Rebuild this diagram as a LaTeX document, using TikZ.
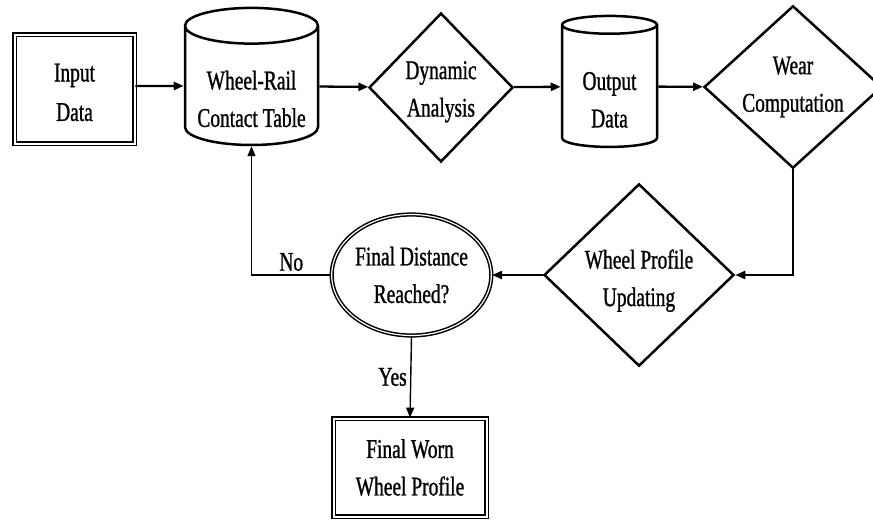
\documentclass[tikz,border=0pt]{standalone}
\usepackage{fontspec}
\setmainfont{Liberation Serif}[FakeStretch=0.72, FakeBold=1]
\usetikzlibrary{shapes.geometric, arrows.meta, positioning}
\tikzstyle{block}=[rectangle, draw=black, double, line width=1.8pt,
    double distance=2pt, align=center, inner sep=0pt]
\tikzstyle{drum}=[cylinder, shape border rotate=90, draw=black,
    line width=2.5pt, aspect=0.33, align=center, inner sep=0pt,
    text height=82pt]
\tikzstyle{decide}=[diamond, draw=black, line width=2.5pt,
    align=center, inner sep=0pt]
\tikzstyle{check}=[ellipse, draw=black, double, line width=1.5pt,
    double distance=1.2pt, align=center, inner sep=0pt]
\tikzstyle{line}=[draw, line width=2.3pt, -{Triangle[length=10pt,width=8pt]}]
\tikzstyle{branch}=[draw, line width=1.4pt, -{Triangle[length=10pt,width=8pt]}]

\begin{document}
\begin{tikzpicture}
      [x=1pt, y=-1pt,
      font=\fontsize{27}{37.5}\selectfont]
      \useasboundingbox (0,0) rectangle (873,520);
      \clip (0,0) rectangle (873,520);

      % top row
      \node [block, minimum width=120, minimum height=109, text height=64pt] (input) at (74.5,89) {Input\\[2pt]Data};
      \node [drum, minimum width=133, minimum height=132] (table) at (251.5,86) {Wheel-Rail\\Contact Table};
      \node [decide, minimum width=144, minimum height=149, text height=64pt] (dynamic) at (441,87.5) {Dynamic\\Analysis};
      \node [drum, minimum width=95, minimum height=131] (output) at (609.5,86.5) {Output\\Data};
      \node [decide, minimum width=178, minimum height=150] (wear) at (793,87) {Wear\\Computation};

      % bottom part
      \node [decide, minimum width=190, minimum height=156, text height=68pt] (update) at (639,275) {Wheel Profile\\Updating};
      \node [check, minimum width=149, minimum height=121] (reached) at (411.5,275) {Final Distance\\Reached?};
      \node [block, minimum width=153, minimum height=98] (worn) at (410,467.5) {Final Worn\\Wheel Profile};

      \path [line] (input.east |- table) -- (table);
      \path [line] (table) -- (dynamic);
      \path [line] (dynamic) -- (output);
      \path [line] (output) -- (wear);
      \path [line] (wear.south) |- (update.east);
      \path [line] (update) -- (reached);
      \path [branch] (reached.west) -| node [pos=0.25, above] {No} (table.south);
      \path [branch] (reached.south) -- node [left] {Yes} (worn.north);
\end{tikzpicture}
\end{document}
